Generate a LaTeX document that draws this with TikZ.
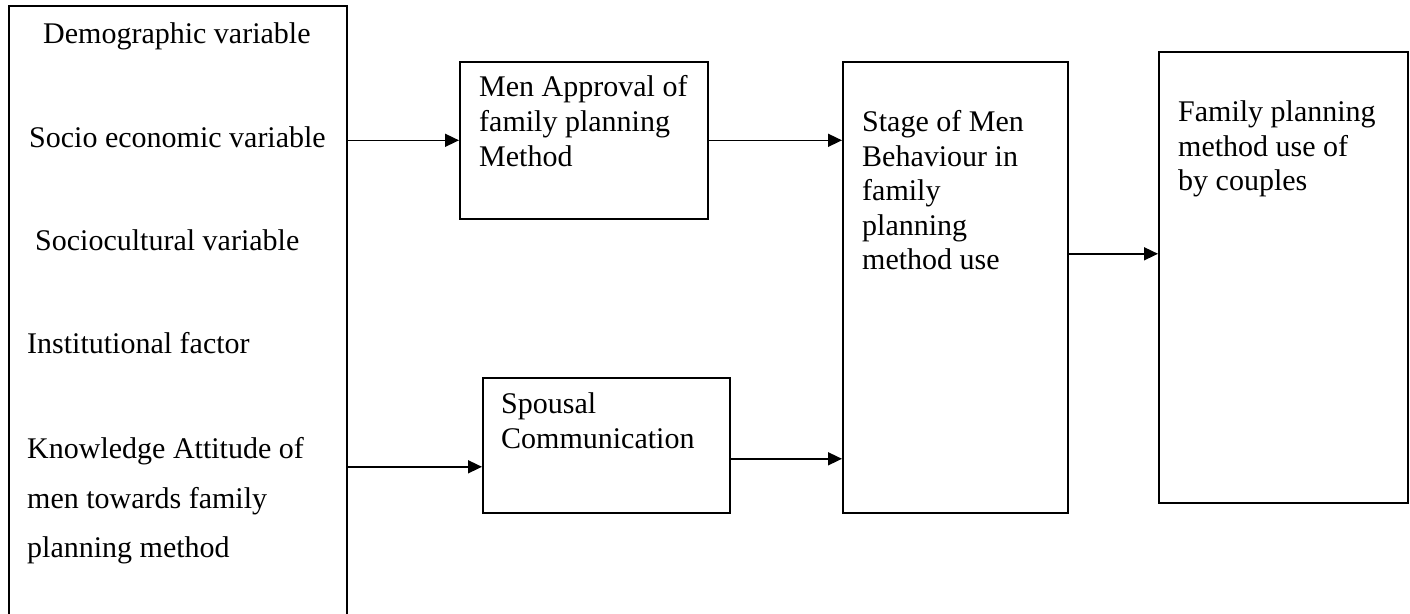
\documentclass[tikz,border=0pt]{standalone}
\usepackage{fontspec}
\setmainfont{Liberation Serif}
\usetikzlibrary{arrows.meta}
\tikzset{
  box/.style={draw=black, line width=1.6pt, rectangle, inner sep=0pt, anchor=north west},
  txt/.style={anchor=base west, inner sep=0pt, font=\fontsize{30}{34.5}\selectfont},
  arr/.style={draw=black, line width=1.6pt, -{Triangle[length=14pt,width=13pt]}}
}
\begin{document}
\begin{tikzpicture}[x=1pt,y=-1pt]
\useasboundingbox (0,0) rectangle (1410,613);
% boxes
\node[box, minimum width=338pt, minimum height=640pt] (L) at (8,5) {};
\node[box, minimum width=248pt, minimum height=157pt] (M) at (459,61) {};
\node[box, minimum width=247pt, minimum height=135pt] (S) at (482,377) {};
\node[box, minimum width=225pt, minimum height=451pt] (G) at (842,61) {};
\node[box, minimum width=249pt, minimum height=451pt] (R) at (1158,51) {};
% left box texts
\node[txt] (l1) at (43,43) {Demographic variable};
\node[txt] (l2) at (29,147) {Socio economic variable};
\node[txt] (l3) at (35,250) {Sociocultural variable};
\node[txt] (l4) at (27,353) {Institutional factor};
\node[txt] (l5) at (27,458) {Knowledge Attitude of};
\node[txt] (l6) at (27,508) {men towards family};
\node[txt] (l7) at (27,557) {planning method};
% men approval
\node[txt] (m1) at (479,96.5) {Men Approval of};
\node[txt] (m2) at (479,131) {family planning};
\node[txt] (m3) at (479,166) {Method};
% spousal
\node[txt] (s1) at (501,413) {Spousal};
\node[txt] (s2) at (501,448) {Communication};
% stage
\node[txt] (g1) at (862,131) {Stage of Men};
\node[txt] (g2) at (862,166) {Behaviour in};
\node[txt] (g3) at (862,200.5) {family};
\node[txt] (g4) at (862,235) {planning};
\node[txt] (g5) at (862,269.5) {method use};
% result
\node[txt] (r1) at (1178,121.5) {Family planning};
\node[txt] (r2) at (1178,156) {method use of};
\node[txt] (r3) at (1178,190) {by couples};
% connectors
\draw[arr] (L.east |- M.west) -- (M.west);
\draw[arr] (M.east) -- (M.east -| G.west);
\draw[arr] ([yshift=-21.5pt]S.west -| L.east) -- ([yshift=-21.5pt]S.west);
\draw[arr] ([yshift=-13.5pt]S.east) -- ([yshift=-13.5pt]S.east -| G.west);
\draw[arr] ([yshift=33.5pt]G.east) -- ([yshift=33.5pt]G.east -| R.west);
\end{tikzpicture}
\end{document}
